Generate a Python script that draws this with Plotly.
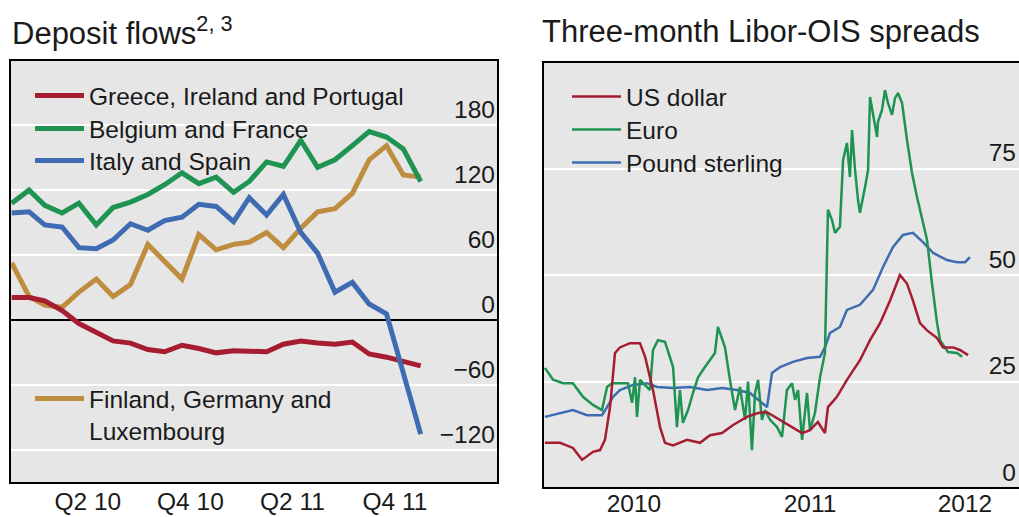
import pandas as pd
import plotly.graph_objects as go

# ---------------- Deposit flows (monthly, end of month) ----------------
months = pd.date_range("2009-12-31", periods=25, freq="ME")
greece_ie_pt = [21, 21, 18, 9, -3, -11, -19, -21, -27, -29, -23, -26, -30,
                -28, -29, -29, -22, -19, -21, -22, -20, -31, -34, -38, -42]
belgium_fr = [108, 120, 106, 99, 108, 88, 104, 109, 116, 125, 136, 126, 132,
              118, 128, 146, 142, 166, 141, 148, 161, 174, 169, 158, 128]
italy_es = [99, 100, 88, 86, 67, 66, 74, 89, 83, 92, 95, 107, 105,
            91, 113, 97, 116, 81, 62, 26, 35, 15, 6, -50, -105]
finland_de_lu = [53, 22, 14, 12, 26, 38, 22, 33, 70, 55, 38, 79, 65,
                 70, 72, 81, 67, 85, 100, 103, 117, 148, 161, 134, 132]

q_labels = ["Q2 10", "Q4 10", "Q2 11", "Q4 11"]
q_mids = ["2010-05-16", "2010-11-15", "2011-05-16", "2011-11-15"]
q_bounds = ["2010-04-01", "2010-07-01", "2010-10-01", "2011-01-01",
            "2011-04-01", "2011-07-01", "2011-10-01", "2012-01-01"]
yr_bounds = ["2010-01-01", "2011-01-01", "2012-01-01"]

# ---------------- Three-month Libor-OIS spreads (bp, time in years) ----------------
usd_t = [2009.994, 2010.080, 2010.153, 2010.205, 2010.267, 2010.307, 2010.335, 2010.364,
         2010.392, 2010.420, 2010.477, 2010.534, 2010.563, 2010.608, 2010.648, 2010.676,
         2010.722, 2010.801, 2010.875, 2010.932, 2011.000, 2011.063, 2011.142, 2011.205,
         2011.256, 2011.330, 2011.403, 2011.455, 2011.500, 2011.545, 2011.585, 2011.602,
         2011.653, 2011.710, 2011.784, 2011.841, 2011.898, 2011.955, 2012.011, 2012.051,
         2012.085, 2012.125, 2012.165, 2012.222, 2012.256, 2012.313, 2012.352, 2012.398]
usd_v = [10.6, 10.6, 9.4, 6.6, 8.5, 8.9, 11.3, 19, 31.7, 33, 34, 34, 30.8, 23, 14.3, 10.6,
         10, 11.3, 10.6, 12.4, 12.9, 14.8, 16.7, 17.6, 17.8, 16, 14.3, 12.9, 13.6, 15.5,
         12.9, 19, 21.4, 25.4, 30, 34.7, 38.7, 44, 50, 48, 44, 38.7, 37, 35.2, 33, 33,
         32.4, 31.2]

eur_t = [2009.994, 2010.040, 2010.097, 2010.153, 2010.210, 2010.267, 2010.318, 2010.347,
         2010.375, 2010.420, 2010.466, 2010.489, 2010.506, 2010.517, 2010.534, 2010.551,
         2010.591, 2010.608, 2010.636, 2010.676, 2010.705, 2010.722, 2010.744, 2010.761,
         2010.778, 2010.807, 2010.835, 2010.864, 2010.903, 2010.932, 2010.960, 2010.977,
         2011.017, 2011.045, 2011.074, 2011.102, 2011.131, 2011.148, 2011.170, 2011.188,
         2011.205, 2011.227, 2011.244, 2011.273, 2011.313, 2011.341, 2011.369, 2011.398,
         2011.415, 2011.432, 2011.455, 2011.483, 2011.500, 2011.528, 2011.557, 2011.585,
         2011.597, 2011.602, 2011.625, 2011.642, 2011.670, 2011.688, 2011.710, 2011.727,
         2011.739, 2011.756, 2011.773, 2011.784, 2011.813, 2011.830, 2011.841, 2011.858,
         2011.881, 2011.886, 2011.909, 2011.926, 2011.943, 2011.966, 2011.983, 2012.000,
         2012.023, 2012.051, 2012.080, 2012.108, 2012.136, 2012.165, 2012.193, 2012.222,
         2012.239, 2012.284, 2012.335, 2012.364]
eur_v = [28.2, 25.4, 24.6, 24.6, 21.4, 19.5, 18.3, 23.7, 24.6, 24.6, 24.6, 20, 26, 16.7,
         25.4, 24.6, 23, 32.4, 34.7, 34.3, 30.8, 28.4, 14.3, 23, 15.3, 18.3, 22.3, 26, 28.4,
         30, 31.7, 37.8, 33, 25.4, 18.3, 23.7, 16, 25, 8.9, 22.3, 25.4, 16, 18.3, 16, 14.3,
         12, 23, 24.6, 20.7, 23, 11.3, 22.3, 13.6, 17.6, 26, 31.7, 51.9, 65.3, 62.9, 59.9,
         61.3, 77, 81, 73, 84, 74.6, 67.6, 64.6, 70.7, 74.6, 91.8, 88, 82.4, 85.9, 88.7,
         93.4, 90.4, 87.6, 91.5, 92.7, 90.4, 81.7, 73.9, 68.3, 63.6, 58.2, 48.1, 38.7, 34.7,
         31.9, 31.7, 30.8]

gbp_t = [2009.994, 2010.080, 2010.153, 2010.233, 2010.318, 2010.347, 2010.381, 2010.420,
         2010.494, 2010.574, 2010.631, 2010.722, 2010.818, 2010.915, 2011.000, 2011.085,
         2011.159, 2011.256, 2011.284, 2011.330, 2011.403, 2011.483, 2011.557, 2011.585,
         2011.614, 2011.670, 2011.710, 2011.784, 2011.858, 2011.915, 2011.972, 2012.028,
         2012.085, 2012.142, 2012.199, 2012.278, 2012.335, 2012.381, 2012.409]
gbp_v = [16.7, 17.6, 18.3, 17.1, 17.1, 19, 21.4, 23, 24.2, 24.6, 23.7, 23.5, 23.7, 23,
         23.5, 23, 22.3, 19, 27, 28.4, 29.6, 30.5, 30.8, 33, 36.4, 37.8, 41.8, 43, 46.5,
         51.9, 56.6, 59.4, 59.9, 57.7, 55.2, 53.5, 53, 53, 54.2]

yr_labels = ["2010", "2011", "2012"]
yr_mids = [2010.5, 2011.5, 2012.38]
yr_ticks = [2010, 2011, 2012]
qtr_ticks = [2010.25, 2010.5, 2010.75, 2011.25, 2011.5, 2011.75, 2012.25]

RED, GREEN, BLUE, GOLD = "#A61C30", "#1E9352", "#3F6BB2", "#BE8D3F"
FONT = "Arial, 'Liberation Sans', sans-serif"
W, H = 1019, 517

fig = go.Figure()

# left panel (gold drawn first, blue on top)
fig.add_trace(go.Scatter(x=months, y=finland_de_lu, name="Finland, Germany and<br>Luxembourg",
                         line=dict(color=GOLD, width=5), xaxis="x", yaxis="y", legend="legend4"))
fig.add_trace(go.Scatter(x=months, y=belgium_fr, name="Belgium and France",
                         line=dict(color=GREEN, width=5), xaxis="x", yaxis="y", legend="legend2"))
fig.add_trace(go.Scatter(x=months, y=greece_ie_pt, name="Greece, Ireland and Portugal",
                         line=dict(color=RED, width=5), xaxis="x", yaxis="y", legend="legend"))
fig.add_trace(go.Scatter(x=months, y=italy_es, name="Italy and Spain",
                         line=dict(color=BLUE, width=5), xaxis="x", yaxis="y", legend="legend3"))

# right panel
fig.add_trace(go.Scatter(x=gbp_t, y=gbp_v, name="Pound sterling",
                         line=dict(color=BLUE, width=2.5), xaxis="x2", yaxis="y2", legend="legend7"))
fig.add_trace(go.Scatter(x=eur_t, y=eur_v, name="Euro",
                         line=dict(color=GREEN, width=2.5), xaxis="x2", yaxis="y2", legend="legend6"))
fig.add_trace(go.Scatter(x=usd_t, y=usd_v, name="US dollar",
                         line=dict(color=RED, width=2.5), xaxis="x2", yaxis="y2", legend="legend5"))

tickfont = dict(family=FONT, size=24.5, color="#1a1a1a")
L_DOM_X = [10 / W, 498 / W]
L_DOM_Y = [1 - 483 / H, 1 - 60 / H]
R_DOM_X = [543 / W, 1.0]
R_DOM_Y = [1 - 488 / H, 1 - 62 / H]
L_RANGE = ["2009-12-28", "2012-05-17"]
R_RANGE = [2009.983, 2012.6875]


def leg(x_px, top_px):
    return dict(x=x_px / W, y=1 - top_px / H, xanchor="left", yanchor="top",
                bgcolor="rgba(0,0,0,0)", font=tickfont, tracegroupgap=0,
                itemwidth=49, valign="top")


fig.update_layout(
    width=W, height=H, margin=dict(l=0, r=0, t=0, b=0, autoexpand=False),
    paper_bgcolor="white", plot_bgcolor="#E6E6E6",
    font=dict(family=FONT, color="#1a1a1a"),
    showlegend=True,
    legend=leg(30, 73), legend2=leg(30, 106), legend3=leg(30, 138), legend4=leg(30, 376),
    legend5=leg(567, 74), legend6=leg(567, 107), legend7=leg(567, 140),
    xaxis=dict(domain=L_DOM_X, anchor="y", type="date", range=L_RANGE,
               tickmode="array", tickvals=q_mids, ticktext=q_labels, ticks="",
               ticklabelstandoff=1, showgrid=False, zeroline=False, tickfont=tickfont),
    xaxis3=dict(overlaying="x", anchor="y", type="date", range=L_RANGE,
                tickmode="array", tickvals=yr_bounds, ticks="inside", ticklen=26,
                tickwidth=2, tickcolor="black", showticklabels=False,
                showgrid=True, gridcolor="white", gridwidth=2, zeroline=False,
                minor=dict(tickmode="array", tickvals=q_bounds, ticks="inside", ticklen=13,
                           tickwidth=2, tickcolor="black", showgrid=False)),
    yaxis=dict(domain=L_DOM_Y, anchor="x", range=[-150, 240], side="right",
               tickmode="array", tickvals=[-120, -60, 0, 60, 120, 180],
               ticklabelposition="inside", ticklabelshift=-16, ticks="",
               showgrid=True, gridcolor="white", gridwidth=2,
               zeroline=True, zerolinecolor="black", zerolinewidth=2, tickfont=tickfont),
    xaxis2=dict(domain=R_DOM_X, anchor="y2", range=R_RANGE,
                tickmode="array", tickvals=yr_mids, ticktext=yr_labels, ticks="",
                ticklabelstandoff=-2, showgrid=False, zeroline=False, tickfont=tickfont),
    xaxis4=dict(overlaying="x2", anchor="y2", range=R_RANGE,
                tickmode="array", tickvals=yr_ticks, ticks="inside", ticklen=30,
                tickwidth=2, tickcolor="black", showticklabels=False,
                showgrid=True, gridcolor="white", gridwidth=2, zeroline=False,
                minor=dict(tickmode="array", tickvals=qtr_ticks, ticks="inside", ticklen=16,
                           tickwidth=2, tickcolor="black", showgrid=False)),
    yaxis2=dict(domain=R_DOM_Y, anchor="x2", range=[0, 100], side="right",
                tickmode="array", tickvals=[0, 25, 50, 75],
                ticklabelposition="inside", ticklabelshift=-16, ticklabelstandoff=0, ticks="",
                showgrid=True, gridcolor="white", gridwidth=2, zeroline=False, tickfont=tickfont),
    shapes=[
        dict(type="rect", xref="x domain", yref="y domain", x0=0, x1=1, y0=0, y1=1,
             line=dict(color="black", width=2), layer="above"),
        dict(type="rect", xref="x2 domain", yref="y2 domain", x0=0, x1=1.1, y0=0, y1=1,
             line=dict(color="black", width=2), layer="above"),
    ],
    annotations=[
        dict(text="Deposit flows<sup>2, 3</sup>", xref="paper", yref="paper",
             x=10 / W, y=1 - 31 / H, xanchor="left", yanchor="middle", showarrow=False,
             font=dict(family=FONT, size=31, color="#1a1a1a")),
        dict(text="Three-month Libor-OIS spreads", xref="paper", yref="paper",
             x=540 / W, y=1 - 31 / H, xanchor="left", yanchor="middle", showarrow=False,
             font=dict(family=FONT, size=31, color="#1a1a1a")),
    ],
)

fig.write_html("out.html", config={"displayModeBar": False},
               post_script="document.body.style.margin='0';")
